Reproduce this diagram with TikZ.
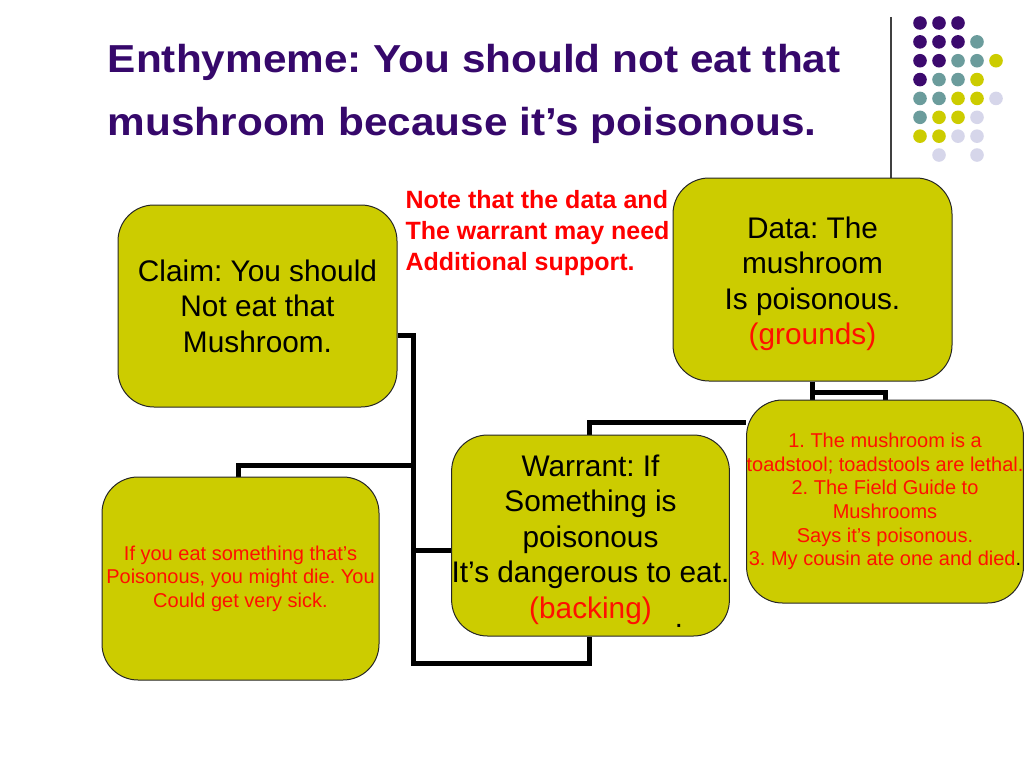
\documentclass[tikz,border=0pt]{standalone}
\usepackage{fontspec}
\setmainfont{Liberation Sans}
\definecolor{boxfill}{HTML}{CCCC00}
\definecolor{titlecol}{HTML}{36086B}
\definecolor{dotpurple}{HTML}{3C0A6E}
\definecolor{dotteal}{HTML}{6B9C9C}
\definecolor{dotyellow}{HTML}{CCCC00}
\definecolor{dotlav}{HTML}{D6D6EA}
\definecolor{txtred}{HTML}{FF1000}
\pgfdeclarelayer{bg}
\pgfsetlayers{bg,main}
\frenchspacing
\begin{document}
\begin{tikzpicture}[x=1pt,y=-1pt,
  box/.style={draw=black!85, line width=1pt, fill=boxfill, rounded corners=36pt,
    inner sep=0pt, align=center, minimum width=277pt, minimum height=202pt},
  bigtxt/.style={font=\fontsize{29.8}{35.5}\selectfont},
  smalltxt/.style={font=\fontsize{20}{23.6}\selectfont, text=txtred},
  conn/.style={line width=5pt, black},
  titletxt/.style={font=\fontsize{39}{63}\selectfont\bfseries, text=titlecol, align=left},
  notetxt/.style={font=\fontsize{25}{31}\selectfont\bfseries, text=red, align=left}
]
\useasboundingbox (0,0) rectangle (1024,768);

% title
\node[titletxt, anchor=base west, xscale=1.085, transform shape] (title) at (104,135)
  {Enthymeme: You should not eat that\\mushroom because it’s poisonous.};

% decorative dots
\foreach \c/\r/\col in {0/0/dotpurple,1/0/dotpurple,2/0/dotpurple,
  0/1/dotpurple,1/1/dotpurple,2/1/dotpurple,3/1/dotteal,
  0/2/dotpurple,1/2/dotpurple,2/2/dotteal,3/2/dotteal,4/2/dotyellow,
  0/3/dotpurple,1/3/dotteal,2/3/dotteal,3/3/dotyellow,
  0/4/dotteal,1/4/dotteal,2/4/dotyellow,3/4/dotyellow,4/4/dotlav,
  0/5/dotteal,1/5/dotyellow,2/5/dotyellow,3/5/dotlav,
  0/6/dotyellow,1/6/dotyellow,2/6/dotlav,3/6/dotlav,
  1/7/dotlav,3/7/dotlav}
  \fill[\col] ({920+19*\c},{23+18.86*\r}) circle (6.8);

% boxes
\node[box, bigtxt, minimum width=279pt] (claim) at (257.5,306)
  {Claim: You should\\Not eat that\\ Mushroom.};
\node[box, bigtxt, minimum width=279pt, minimum height=203pt] (data) at (812.5,279.5)
  {\rule{0pt}{30pt}Data: The\\mushroom\\Is poisonous.\\\textcolor{txtred}{(grounds)}};
\node[box, bigtxt, minimum height=201pt] (warrant) at (590.5,535.5)
  {\rule{0pt}{30pt}Warrant: If\\Something is\\ poisonous\\It’s dangerous to eat.\\\textcolor{txtred}{(backing)}};
\node[box, smalltxt, minimum width=276pt, minimum height=203pt] (backing) at (885,501.5)
  {1. The mushroom is a\\toadstool; toadstools are lethal.\\2. The Field Guide to\\Mushrooms\\ Says it’s poisonous.\\3. My cousin ate one and died\textcolor{black}{.}};
\node[box, smalltxt, minimum height=203pt] (rebuttal) at (240.5,578.5)
  {If you eat something that’s\\Poisonous, you might die. You\\Could get very sick.};

\node[font=\fontsize{29}{29}\selectfont, anchor=base] (dot) at (679,627) {.};

% note
\node[notetxt, anchor=base west] (note) at (402,270)
  {Note that the data and\\The warrant may need\\Additional support.};

% connectors
\coordinate (j1) at (413,335);
\coordinate (j2) at (413,465);
\coordinate (j3) at (238,465);
\coordinate (j4) at (413,663);
\coordinate (j5) at (589,663);
\coordinate (j6) at (413,550);
\coordinate (j7) at (589,422);
\coordinate (j9) at (812.5,392);
\coordinate (vtop) at (891,17);
\begin{pgfonlayer}{bg}
\draw[conn] (claim.east |- j1) -- (j1) -- (j4) -- (j5) -- (j5 |- warrant.south);
\draw[conn] (j2) -- (j3) -- (j3 |- rebuttal.north);
\draw[conn] (j6) -- (j6 -| warrant.west);
\draw[conn] (j7 |- warrant.north) -- (j7) -- (j7 -| backing.west);
\draw[conn] (data.south) -- (data.south |- backing.north);
\draw[conn] (j9) -- (j9 -| backing.north) -- (backing.north);
\draw[line width=1.2pt, black!75] (vtop) -- (vtop |- data.north);
\end{pgfonlayer}
\end{tikzpicture}
\end{document}
